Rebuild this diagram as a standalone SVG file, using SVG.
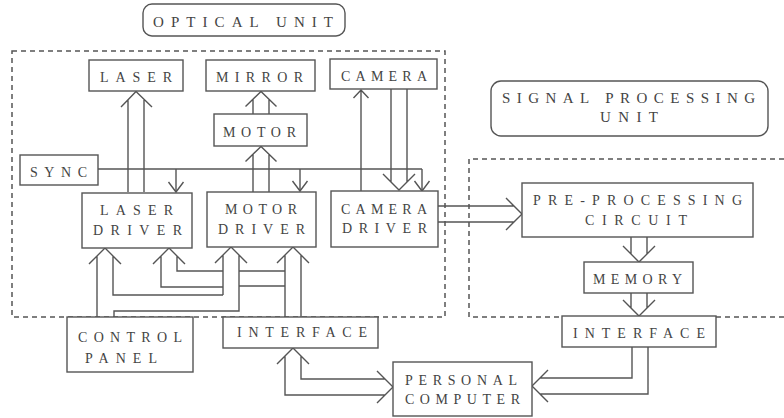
<svg xmlns="http://www.w3.org/2000/svg" width="784" height="418" viewBox="0 0 784 418">
<style>
.bx{fill:#fff;stroke:#555;stroke-width:1.4}
.rb{fill:#fff;stroke:#555;stroke-width:1.4}
.ds{fill:none;stroke:#555;stroke-width:1.5;stroke-dasharray:5 4}
.ln{fill:none;stroke:#555;stroke-width:1.4;stroke-linejoin:miter}
.t{font-family:"Liberation Serif","DejaVu Serif",serif;font-size:14px;fill:#444}
.tu{font-family:"Liberation Serif","DejaVu Serif",serif;font-size:15px;fill:#444}
</style>
<rect width="784" height="418" fill="#fff"/>
<g id="optical-unit-frame">
<path class="ds" d="M12,51 H445 V317 H12 Z"/>
</g>
<g id="signal-unit-frame">
<path class="ds" d="M784,159 H469 V317 H784"/>
</g>
<g id="connectors">
<path class="ln" d="M128,192 V100 M144,192 V100 M121,107 L136,91.5 L152,107"/>
<path class="ln" d="M253,114 V99 M269,114 V99 M245.5,106.5 L261,91.5 L276.5,106.5"/>
<path class="ln" d="M253,192 V154 M269,192 V154 M245.5,161.5 L261,146.5 L276.5,161.5"/>
<path class="ln" d="M361,191 V90 M353.5,98 L361,90 L368.5,98"/>
<path class="ln" d="M391,89 V182 M407,89 V182 M383,174 L399,190 L415,174"/>
<path class="ln" d="M98,169 H422 M176,169 V192 M300,169 V191 M422,169 V191"/>
<path class="ln" d="M168.5,182 L176,192 L183.5,182 M292.5,181 L300,191 L307.5,181 M414.5,181 L422,191 L429.5,181"/>
<path class="ln" d="M438,206 H514 M438,222 H514 M506,198 L522,214 L506,230"/>
<path class="ln" d="M631,237 V254 M647,237 V254 M623,246 L639,262 L655,246"/>
<path class="ln" d="M631,293 V308 M647,293 V308 M623,300 L639,316 L655,300"/>
<path class="ln" d="M632,347 V378 H540 M648,347 V394 H540 M548,370 L532,386 L548,402"/>
<path class="ln" d="M277,364 L293,348 L309,364 M301,356 V379 H385 M285,356 V395 H385 M377,371 L393,387 L377,403"/>
<path class="ln" d="M285,317 V255 M301,317 V255 M277,263 L293,247 L309,263"/>
<path class="ln" d="M239,271 H285 M239,286 H285"/>
<path class="ln" d="M215,263 L231,247 L247,263 M223,255 V295 M239,255 V311 H114 V317"/>
<path class="ln" d="M89,264 L105,248 L121,264 M97,256 V317 M113,256 V295 H223"/>
<path class="ln" d="M153,264 L169,248 L185,264 M161,256 V287 H223 M177,256 V271 H223"/>
</g>
<g id="optical-unit-label">
<rect class="rb" x="143" y="4" width="202" height="32" rx="9"/>
<text class="tu" x="153" y="27" textLength="180" lengthAdjust="spacing">OPTICAL UNIT</text>
</g>
<g id="signal-unit-label">
<rect class="rb" x="491" y="81" width="277" height="55" rx="10"/>
<text class="tu" x="502" y="103" textLength="253" lengthAdjust="spacing">SIGNAL PROCESSING</text>
<text class="tu" x="600" y="122" textLength="58" lengthAdjust="spacing">UNIT</text>
</g>
<g id="laser">
<rect class="bx" x="89" y="60" width="94" height="31"/>
<text class="t" x="100" y="82" textLength="72" lengthAdjust="spacing">LASER</text>
</g>
<g id="mirror">
<rect class="bx" x="206" y="60" width="109" height="31"/>
<text class="t" x="216" y="82" textLength="87" lengthAdjust="spacing">MIRROR</text>
</g>
<g id="camera">
<rect class="bx" x="330" y="59" width="107" height="30"/>
<text class="t" x="341" y="81" textLength="86" lengthAdjust="spacing">CAMERA</text>
</g>
<g id="motor">
<rect class="bx" x="214" y="114" width="93" height="32"/>
<text class="t" x="223" y="137" textLength="73" lengthAdjust="spacing">MOTOR</text>
</g>
<g id="sync">
<rect class="bx" x="20" y="155" width="78" height="30"/>
<text class="t" x="30" y="177" textLength="57" lengthAdjust="spacing">SYNC</text>
</g>
<g id="laser-driver">
<rect class="bx" x="82" y="193" width="110" height="55"/>
<text class="t" x="100" y="215" textLength="73" lengthAdjust="spacing">LASER</text>
<text class="t" x="93" y="235" textLength="89" lengthAdjust="spacing">DRIVER</text>
</g>
<g id="motor-driver">
<rect class="bx" x="207" y="192" width="109" height="55"/>
<text class="t" x="225" y="214" textLength="72" lengthAdjust="spacing">MOTOR</text>
<text class="t" x="218" y="234" textLength="87" lengthAdjust="spacing">DRIVER</text>
</g>
<g id="camera-driver">
<rect class="bx" x="331" y="191" width="107" height="56"/>
<text class="t" x="341" y="214" textLength="86" lengthAdjust="spacing">CAMERA</text>
<text class="t" x="342" y="233" textLength="85" lengthAdjust="spacing">DRIVER</text>
</g>
<g id="control-panel">
<rect class="bx" x="67" y="317" width="126" height="55"/>
<text class="t" x="78" y="342" textLength="104" lengthAdjust="spacing">CONTROL</text>
<text class="t" x="85" y="363" textLength="72" lengthAdjust="spacing">PANEL</text>
</g>
<g id="interface-left">
<rect class="bx" x="223" y="317" width="155" height="31"/>
<text class="t" x="237" y="337" textLength="130" lengthAdjust="spacing">INTERFACE</text>
</g>
<g id="personal-computer">
<rect class="bx" x="393" y="362" width="139" height="54"/>
<text class="t" x="405" y="385" textLength="112" lengthAdjust="spacing">PERSONAL</text>
<text class="t" x="405" y="404" textLength="115" lengthAdjust="spacing">COMPUTER</text>
</g>
<g id="pre-processing-circuit">
<rect class="bx" x="522" y="183" width="231" height="54"/>
<text class="t" x="533" y="205" textLength="209" lengthAdjust="spacing">PRE-PROCESSING</text>
<text class="t" x="585" y="225" textLength="102" lengthAdjust="spacing">CIRCUIT</text>
</g>
<g id="memory">
<rect class="bx" x="584" y="262" width="109" height="31"/>
<text class="t" x="593" y="284" textLength="89" lengthAdjust="spacing">MEMORY</text>
</g>
<g id="interface-right">
<rect class="bx" x="562" y="316" width="154" height="31"/>
<text class="t" x="573" y="338" textLength="132" lengthAdjust="spacing">INTERFACE</text>
</g>
</svg>
